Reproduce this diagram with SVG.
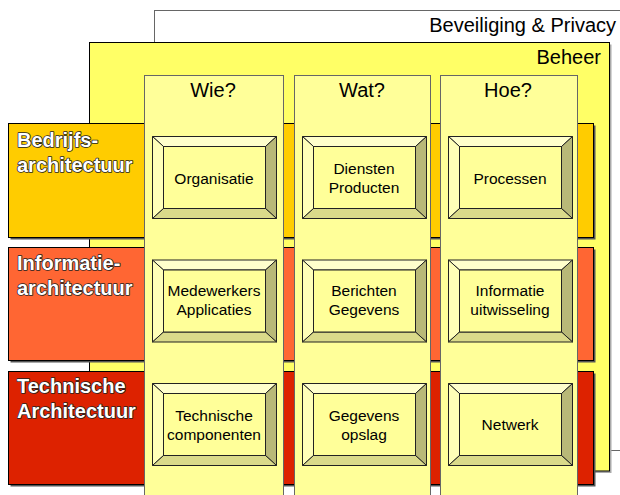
<svg xmlns="http://www.w3.org/2000/svg" width="620" height="495" viewBox="0 0 620 495">
<style>
text{font-family:"Liberation Sans",Arial,sans-serif;fill:#000}
.hdr{font-size:20px;text-anchor:middle}
.ttl{font-size:20px;text-anchor:end}
.btn{font-size:15.5px;text-anchor:middle}
.lbl{font-size:20px;font-weight:bold;fill:#fff;stroke:#222;stroke-width:1.6px;paint-order:stroke;stroke-linejoin:round}
.col{fill:#FFFF99;stroke:#666;stroke-width:1}
.band{stroke:#000;stroke-width:1}
.shadow{fill:#555}
</style>
<defs>
<g id="bevel" stroke="#222" stroke-width="1" stroke-linejoin="miter">
<polygon points="0,0 124,0 113,10 11,10" fill="#FFFFCC"/>
<polygon points="0,0 11,10 11,72 0,82" fill="#FFFFB8"/>
<polygon points="124,0 124,82 113,72 113,10" fill="#B8B878"/>
<polygon points="0,82 124,82 113,72 11,72" fill="#DADA8A"/>
<rect x="11" y="10" width="102" height="62" fill="#FFFF99"/>
</g>
</defs>

<g id="beveiliging">
<rect x="154.5" y="10.5" width="480" height="440" fill="#fff" stroke="#666"/>
<text class="ttl" x="616" y="32">Beveiliging &amp; Privacy</text>
</g>

<g id="beheer">
<rect x="91.5" y="44.5" width="520" height="428.5" fill="#aaa"/>
<rect x="89.5" y="42.5" width="520" height="428.5" fill="#FFFF66" stroke="#000"/>
<text class="ttl" x="601" y="64">Beheer</text>
</g>

<g id="bedrijfs">
<rect class="shadow" x="10.5" y="125.5" width="585" height="114"/>
<rect class="band" x="8.5" y="123.5" width="585" height="114" fill="#FFCC00"/>
<text class="lbl" x="17" y="147">Bedrijfs-</text>
<text class="lbl" x="17" y="172">architectuur</text>
</g>
<g id="informatie">
<rect class="shadow" x="10.5" y="249.5" width="585" height="113"/>
<rect class="band" x="8.5" y="247.5" width="585" height="113" fill="#FF6633"/>
<text class="lbl" x="17" y="270">Informatie-</text>
<text class="lbl" x="17" y="295">architectuur</text>
</g>
<g id="technische">
<rect class="shadow" x="10.5" y="373.5" width="585" height="113"/>
<rect class="band" x="8.5" y="371.5" width="585" height="113" fill="#DD2200"/>
<text class="lbl" x="17" y="393">Technische</text>
<text class="lbl" x="17" y="418">Architectuur</text>
</g>

<g id="col-wie">
<rect class="col" x="144.5" y="75.5" width="139" height="440"/>
<text class="hdr" x="213" y="97">Wie?</text>
</g>
<g id="col-wat">
<rect class="col" x="294.5" y="75.5" width="136" height="440"/>
<text class="hdr" x="362" y="97">Wat?</text>
</g>
<g id="col-hoe">
<rect class="col" x="440.5" y="75.5" width="137" height="440"/>
<text class="hdr" x="508" y="97">Hoe?</text>
</g>

<g id="organisatie">
<use href="#bevel" transform="translate(152.5,136.5)"/>
<text class="btn" x="214" y="184">Organisatie</text>
</g>
<g id="diensten">
<use href="#bevel" transform="translate(302.5,136.5)"/>
<text class="btn" x="364" y="174">Diensten</text>
<text class="btn" x="364" y="193">Producten</text>
</g>
<g id="processen">
<use href="#bevel" transform="translate(448.5,136.5)"/>
<text class="btn" x="510" y="184">Processen</text>
</g>

<g id="medewerkers">
<use href="#bevel" transform="translate(152.5,260)"/>
<text class="btn" x="214" y="296">Medewerkers</text>
<text class="btn" x="214" y="315">Applicaties</text>
</g>
<g id="berichten">
<use href="#bevel" transform="translate(302.5,260)"/>
<text class="btn" x="364" y="296">Berichten</text>
<text class="btn" x="364" y="315">Gegevens</text>
</g>
<g id="informatieuitwisseling">
<use href="#bevel" transform="translate(448.5,260)"/>
<text class="btn" x="510" y="296">Informatie</text>
<text class="btn" x="510" y="315">uitwisseling</text>
</g>

<g id="technischecomp">
<use href="#bevel" transform="translate(152.5,383.5)"/>
<text class="btn" x="214" y="421">Technische</text>
<text class="btn" x="214" y="440">componenten</text>
</g>
<g id="gegevensopslag">
<use href="#bevel" transform="translate(302.5,383.5)"/>
<text class="btn" x="364" y="421">Gegevens</text>
<text class="btn" x="364" y="440">opslag</text>
</g>
<g id="netwerk">
<use href="#bevel" transform="translate(448.5,383.5)"/>
<text class="btn" x="510" y="430">Netwerk</text>
</g>

<g id="connectors"></g>
</svg>
